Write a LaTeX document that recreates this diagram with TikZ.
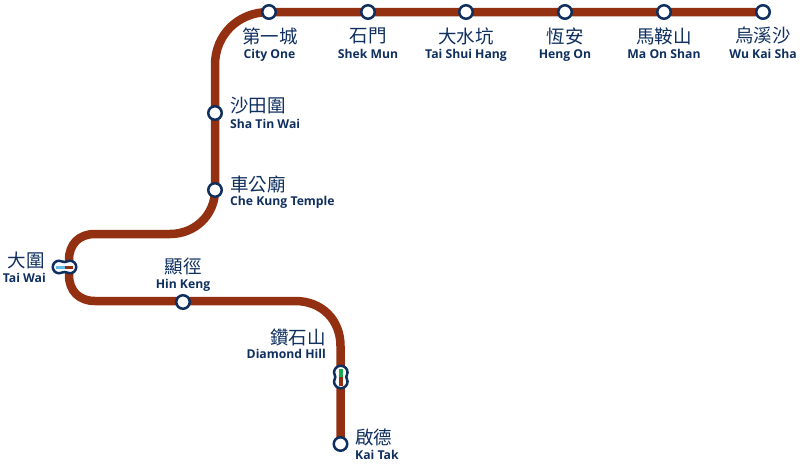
\documentclass[tikz,border=0pt]{standalone}
\usepackage{fontspec}
\usetikzlibrary{backgrounds}
\setmainfont{Open Sans}
\newfontfamily\cjk{Noto Sans CJK TC}
\definecolor{trk}{HTML}{923011}
\definecolor{navy}{HTML}{0F2F5F}
\definecolor{lblue}{HTML}{63B9E8}
\definecolor{lgreen}{HTML}{1FA94F}
\tikzset{
  x=1pt,y=-1pt,
  sta/.style={circle,draw=navy,fill=white,line width=2.5pt,minimum size=13.5pt,inner sep=0pt},
  track/.style={draw=trk,line width=8.5pt},
  lab/.style={text=navy,inner sep=0pt,yshift=-0.6pt,font=\fontsize{12.2}{13}\selectfont\bfseries},
  zh/.style={text=navy,inner sep=0pt,font=\cjk\fontsize{18.5}{19}\selectfont},
  ring/.style={draw=navy,fill=white,line width=2.5pt},
}
\begin{document}
\begin{tikzpicture}
\useasboundingbox (0,0) rectangle (800,463);
\coordinate (c1) at (215,65);
\coordinate (c2) at (170,234);
\coordinate (c3) at (69,260);
\coordinate (c4) at (95,301);
\coordinate (c5) at (340.5,346);
\node[sta] (wks) at (763,12) {};
\node[sta] (mos) at (664,12) {};
\node[sta] (hgo) at (565,12) {};
\node[sta] (tsh) at (466,12) {};
\node[sta] (skm) at (368,12) {};
\node[sta] (cio) at (269,12) {};
\node[sta] (stw) at (215,113) {};
\node[sta] (ckt) at (215,190) {};
\node[sta] (hik) at (183,302) {};
\node[sta] (ktk) at (340.5,444) {};
\begin{scope}[on background layer]
\path[track,line join=round]
 (wks.center) -- (cio.center) .. controls (238,12) and (215,35) .. (c1)
 -- (ckt.center) .. controls (215,215) and (195,234) .. (c2)
 -- (95,234) .. controls (79,234) and (69,244) .. (c3)
 -- (69,275) .. controls (69,291) and (79,301) .. (c4)
 -- (295,301) .. controls (322,301) and (340.5,320) .. (c5)
 -- (ktk.center);
\end{scope}
% Tai Wai interchange
\path[ring] (59,260.75) arc[start angle=-90,end angle=-270,radius=6.25]
  .. controls (61.5,273.25) and (62,272) .. (64.5,272)
  .. controls (67,272) and (67.5,273.25) .. (70,273.25)
  arc[start angle=90,end angle=-90,radius=6.25]
  .. controls (67.5,260.75) and (67,262) .. (64.5,262)
  .. controls (62,262) and (61.5,260.75) .. (59,260.75) -- cycle;
\fill[lblue] (56,265.5) rectangle (64.5,269.2);
\fill[trk] (64.5,265.5) rectangle (73,269.2);
% Diamond Hill interchange
\path[ring] (334.05,372.5) arc[start angle=180,end angle=360,radius=6.75]
  .. controls (347.55,375) and (346.3,375) .. (346.3,377)
  .. controls (346.3,379) and (347.55,379) .. (347.55,381.5)
  arc[start angle=0,end angle=180,radius=6.75]
  .. controls (334.05,379) and (335.3,379) .. (335.3,377)
  .. controls (335.3,375) and (334.05,375) .. (334.05,372.5) -- cycle;
\fill[lgreen] (339,368.5) rectangle (342.6,377);
\fill[trk] (339,377) rectangle (342.6,386);
% labels
\node[zh] at (270,36) {第一城};
\node[lab,anchor=base] at (269.5,57.5) {City One};
\node[zh] at (368,36) {石門};
\node[lab,anchor=base] at (368,57.5) {Shek Mun};
\node[zh] at (466,36) {大水坑};
\node[lab,anchor=base] at (466,57.5) {Tai Shui Hang};
\node[zh] at (565,36) {恆安};
\node[lab,anchor=base] at (565,57.5) {Heng On};
\node[zh] at (664,36) {馬鞍山};
\node[lab,anchor=base] at (664,57.5) {Ma On Shan};
\node[zh] at (763,36) {烏溪沙};
\node[lab,anchor=base] at (763,57.5) {Wu Kai Sha};
\node[zh,anchor=west] at (230,106) {沙田圍};
\node[lab,anchor=base west] at (230,127.5) {Sha Tin Wai};
\node[zh,anchor=west] at (230,184) {車公廟};
\node[lab,anchor=base west] at (230,205) {Che Kung Temple};
\node[zh,anchor=east] at (45,260) {大圍};
\node[lab,anchor=base east] at (46,281.7) {Tai Wai};
\node[zh] at (183,266) {顯徑};
\node[lab,anchor=base] at (183,287.7) {Hin Keng};
\node[zh,anchor=east] at (326,337) {鑽石山};
\node[lab,anchor=base east] at (326,357.7) {Diamond Hill};
\node[zh,anchor=west] at (355,437) {啟德};
\node[lab,anchor=base west] at (355,458.5) {Kai Tak};
\end{tikzpicture}
\end{document}
